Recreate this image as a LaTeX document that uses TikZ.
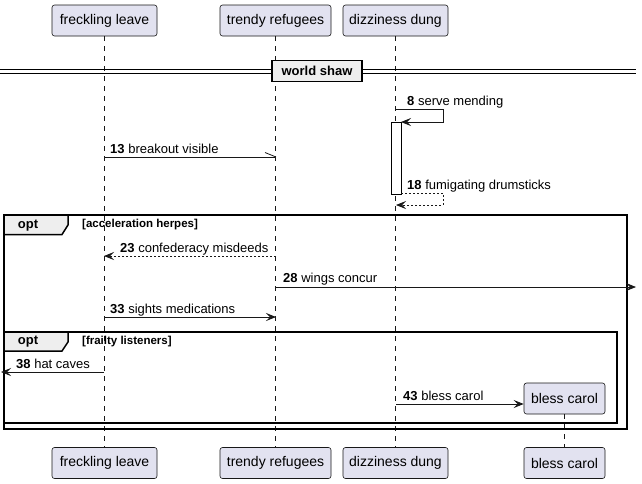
\documentclass[tikz,border=0pt]{standalone}
\usepackage{fontspec}
\setmainfont{Liberation Sans}
\usetikzlibrary{arrows.meta}
\definecolor{partfill}{HTML}{E2E2F0}
\definecolor{partline}{HTML}{181818}
\definecolor{tabfill}{HTML}{EEEEEE}
\begin{document}
\begin{tikzpicture}[x=1pt,y=-1pt,
  part/.style={draw=partline, fill=partfill, rounded corners=2.5pt, line width=0.6pt,
    minimum height=31pt, inner xsep=0pt, font=\fontsize{14}{16}\selectfont},
  life/.style={draw=partline, dash pattern=on 5pt off 5pt, line width=0.5pt},
  msg/.style={draw=partline, line width=0.8pt, -{Stealth[length=10pt,width=8pt,inset=4pt]}},
  ret/.style={msg, dash pattern=on 2pt off 2pt},
  lbl/.style={anchor=base west, inner sep=0pt, font=\fontsize{13}{15}\selectfont},
  frm/.style={draw=black, line width=1.5pt},
  tab/.style={draw=black, line width=1.5pt, fill=tabfill},
  tabtxt/.style={inner sep=0pt, font=\fontsize{13}{15}\selectfont\bfseries},
  cond/.style={anchor=west, inner sep=0pt, font=\fontsize{11.5}{13}\selectfont\bfseries}
]
\useasboundingbox (0,0) rectangle (642,483);
\fill[white] (0,0) rectangle (642,483);

% participants top
\node[part, minimum width=105pt] (flT) at (104.5,20.5) {freckling leave};
\node[part, minimum width=111pt] (trT) at (275.5,20.5) {trendy refugees};
\node[part, minimum width=105pt] (ddT) at (395.5,20.5) {dizziness dung};
% participants bottom
\node[part, minimum width=105pt] (flB) at (104.5,463) {freckling leave};
\node[part, minimum width=111pt] (trB) at (275.5,463) {trendy refugees};
\node[part, minimum width=105pt] (ddB) at (395.5,463) {dizziness dung};
\node[part, minimum width=81pt] (bcB) at (564.5,463) {bless carol};
\node[part, minimum width=81pt] (bcT) at (564.5,398.5) {bless carol};

% lifelines
\draw[life] (flT.south) -- (flB.north);
\draw[life] (trT.south) -- (trB.north);
\draw[life] (ddT.south) -- (ddB.north);
\draw[life] (bcT.south) -- (bcB.north);

% divider
\draw[line width=1pt] (0,69) -- (636,69);
\draw[line width=1pt] (0,73) -- (636,73);
\node[draw=black, line width=1.5pt, fill=tabfill, minimum width=90pt, minimum height=21pt,
  inner sep=0pt, font=\fontsize{13}{15}\selectfont\bfseries] (div) at (317,71) {world shaw};

% activation
\node[draw=black, fill=white, line width=0.7pt, minimum width=10pt, minimum height=72pt, inner sep=0pt]
  (act) at (396,158) {};

% message 8 (self)
\coordinate (s8a) at (396,109);
\coordinate (s8b) at (443,109);
\coordinate (s8c) at (443,122);
\coordinate (s8d) at (401,122);
\draw[msg] (s8a) -- (s8b) -- (s8c) -- (s8d);
\node[lbl] at (407,105) {\textbf{8} serve mending};

% message 13 (async half arrow)
\coordinate (m13a) at (104,157);
\coordinate (m13b) at (276,157);
\coordinate (m13h) at (265,152.5);
\draw[draw=partline, line width=0.8pt] (m13a) -- (m13b);
\draw[draw=partline, line width=0.8pt] (m13h) -- (m13b);
\node[lbl] at (110,153) {\textbf{13} breakout visible};

% message 18 (self return)
\coordinate (s18a) at (401,193);
\coordinate (s18b) at (443,193);
\coordinate (s18c) at (443,205);
\coordinate (s18d) at (396,205);
\draw[ret] (s18a) -- (s18b) -- (s18c) -- (s18d);
\node[lbl] at (407,189) {\textbf{18} fumigating drumsticks};

% frame 1
\draw[frm] (4,215) rectangle (627,429);
\draw[tab] (4,215) -- (68,215) -- (68,225) -- (62,234.5) -- (4,234.5) -- cycle;
\node[tabtxt] at (28,225.5) {opt};
\node[cond] at (82,225) {[acceleration herpes]};

% message 23
\coordinate (m23a) at (276,256);
\coordinate (m23b) at (104,256);
\draw[ret] (m23a) -- (m23b);
\node[lbl] at (120,252) {\textbf{23} confederacy misdeeds};

% message 28
\coordinate (m28a) at (276,287);
\coordinate (m28b) at (636,287);
\draw[msg] (m28a) -- (m28b);
\node[lbl] at (283,282) {\textbf{28} wings concur};

% message 33
\coordinate (m33a) at (104,317);
\coordinate (m33b) at (276,317);
\draw[msg] (m33a) -- (m33b);
\node[lbl] at (110,313) {\textbf{33} sights medications};

% frame 2
\draw[frm] (4,332) rectangle (617,423);
\draw[tab] (4,332) -- (68,332) -- (68,342) -- (62,351) -- (4,351) -- cycle;
\node[tabtxt] at (28,342) {opt};
\node[cond] at (82,342) {[frailty listeners]};

% message 38
\coordinate (m38a) at (104,372);
\coordinate (m38b) at (1,372);
\draw[msg] (m38a) -- (m38b);
\node[lbl] at (16,368) {\textbf{38} hat caves};

% message 43
\coordinate (m43a) at (396,404);
\draw[msg] (m43a) -- (bcT.west |- m43a);
\node[lbl] at (403,400) {\textbf{43} bless carol};
\end{tikzpicture}
\end{document}
